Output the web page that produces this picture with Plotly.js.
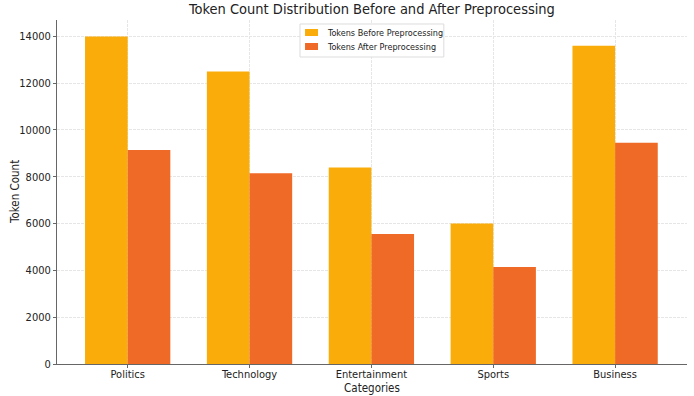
<!DOCTYPE html>
<html>
<head>
<meta charset="utf-8">
<script src="https://cdn.plot.ly/plotly-3.0.1.min.js"></script>
<style>html,body{margin:0;padding:0;background:#fff;}#chart{width:694px;height:396px;}</style>
</head>
<body>
<div id="chart"></div>
<script>
const categories = ["Politics", "Technology", "Entertainment", "Sports", "Business"];
const seriesNames = ["Tokens Before Preprocessing", "Tokens After Preprocessing"];
const tokensBefore = [14000, 12500, 8400, 6000, 13600];
const tokensAfter = [9150, 8150, 5550, 4150, 9450];
const yTicks = [0, 2000, 4000, 6000, 8000, 10000, 12000, 14000];
const colors = ["#FAAD0A", "#F06A27"];

const font = "DejaVu Sans Condensed, DejaVu Sans, sans-serif";
const data = [
  {type: "bar", name: seriesNames[0], x: categories, y: tokensBefore,
   marker: {color: colors[0]}, offset: -0.35, width: 0.35},
  {type: "bar", name: seriesNames[1], x: categories, y: tokensAfter,
   marker: {color: colors[1]}, offset: 0, width: 0.35}
];

// custom compact legend (matplotlib style)
const shapes = [
  {type: "rect", xref: "paper", yref: "paper", x0: 0.3857, x1: 0.614, y0: 0.8924, y1: 0.9884,
   fillcolor: "rgba(255,255,255,0.9)", line: {color: "#ddd", width: 1}},
  {type: "rect", xref: "paper", yref: "paper", x0: 0.3937, x1: 0.4143, y0: 0.9535, y1: 0.9738,
   fillcolor: colors[0], line: {width: 0}},
  {type: "rect", xref: "paper", yref: "paper", x0: 0.3937, x1: 0.4143, y0: 0.9128, y1: 0.9331,
   fillcolor: colors[1], line: {width: 0}}
];
const annotations = [
  {xref: "paper", yref: "paper", x: 0.4254, y: 0.9622, xanchor: "left", yanchor: "middle", showarrow: false,
   text: seriesNames[0], font: {family: font, size: 9, color: "#222"}},
  {xref: "paper", yref: "paper", x: 0.4254, y: 0.9215, xanchor: "left", yanchor: "middle", showarrow: false,
   text: seriesNames[1], font: {family: font, size: 9, color: "#222"}},
  {xref: "paper", yref: "paper", x: -0.0667, y: 0.5, xanchor: "center", yanchor: "middle", showarrow: false,
   textangle: -90, text: "Token Count", font: {family: font, size: 11.5, color: "#222"}}
];

const layout = {
  width: 694, height: 396,
  margin: {l: 57, r: 7, t: 20, b: 32},
  paper_bgcolor: "#fff", plot_bgcolor: "#fff",
  font: {family: font, color: "#222", size: 11},
  title: {text: "Token Count Distribution Before and After Preprocessing",
          font: {family: font, size: 14.5, color: "#222"}, x: 0.536, xanchor: "center", y: 0.978, yanchor: "middle"},
  showlegend: false,
  shapes: shapes,
  annotations: annotations,
  xaxis: {type: "category", range: [-0.58, 4.59], showline: true, linecolor: "#666", linewidth: 1,
          ticks: "outside", ticklen: 3, tickcolor: "#666", showgrid: true, gridcolor: "#e6e6e6", griddash: "3px,1px",
          gridwidth: 1, tickfont: {family: font, size: 11, color: "#222"}, ticklabelstandoff: -3,
          title: {text: "Categories", font: {family: font, size: 11.5, color: "#222"}, standoff: 2},
          zeroline: false},
  yaxis: {range: [0, 14700], tickvals: yTicks, tickformat: "d", showline: true, linecolor: "#666", linewidth: 1,
          ticks: "outside", ticklen: 3, tickcolor: "#666", showgrid: true, gridcolor: "#e6e6e6", griddash: "3px,1px",
          gridwidth: 1, tickfont: {family: font, size: 11, color: "#222"},
          zeroline: false}
};
Plotly.newPlot("chart", data, layout, {displayModeBar: false, staticPlot: true});
</script>
</body>
</html>
